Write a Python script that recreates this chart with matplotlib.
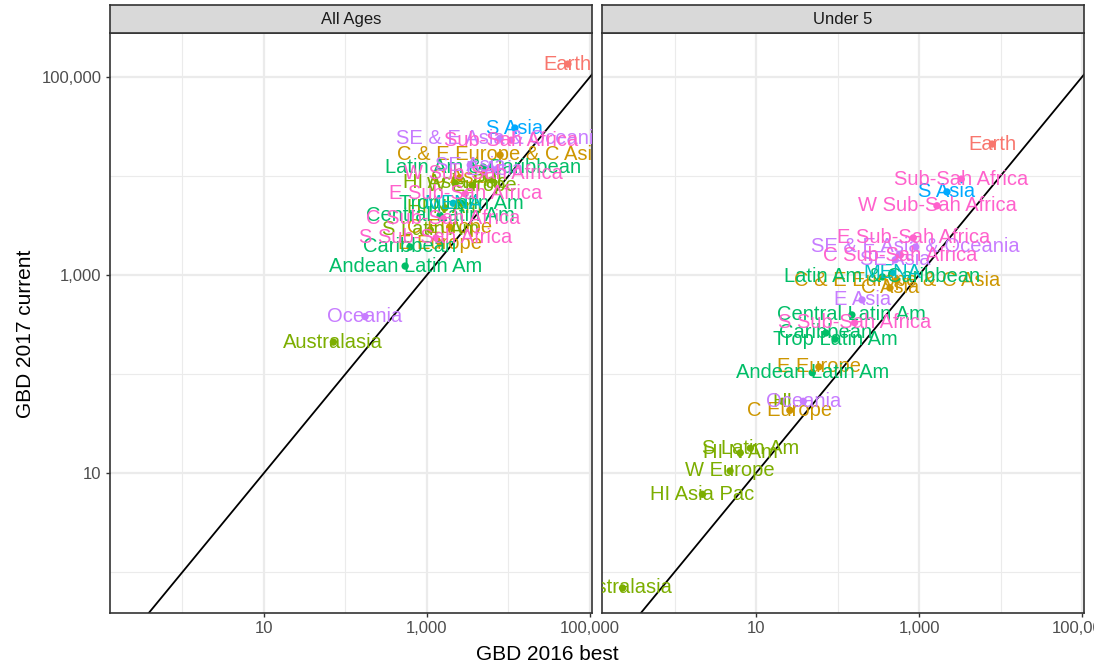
import matplotlib
matplotlib.use("Agg")
import matplotlib.pyplot as plt
from matplotlib.patches import Rectangle

plt.rcParams['font.family'] = ['Liberation Sans', 'DejaVu Sans']

# region labels and the super-region each belongs to (sets the colour)
regions = ["Earth",
           "C & E Europe & C Asia", "C Asia", "C Europe", "E Europe",
           "HI", "Australasia", "HI Asia Pac", "HI N Am", "S Latin Am", "W Europe",
           "Latin Am & Caribbean", "Andean Latin Am", "Caribbean", "Central Latin Am", "Trop Latin Am",
           "MENA",
           "S Asia",
           "SE & E Asia & Oceania", "E Asia", "Oceania", "SE Asia",
           "Sub-Sah Africa", "C Sub-Sah Africa", "E Sub-Sah Africa", "S Sub-Sah Africa", "W Sub-Sah Africa"]
groups = ["Global",
          "CEE", "CEE", "CEE", "CEE",
          "HI", "HI", "HI", "HI", "HI", "HI",
          "LatAm", "LatAm", "LatAm", "LatAm", "LatAm",
          "MENA",
          "SAsia",
          "SEAsia", "SEAsia", "SEAsia", "SEAsia",
          "SSA", "SSA", "SSA", "SSA", "SSA"]

# All Ages panel
all_x = [53700,
         7900, 2520, 1900, 1450,
         6300, 71, 2200, 1660, 1100, 3550,
         4900, 540, 620, 1450, 2650,
         2100,
         12000,
         7900, 6800, 174, 3400,
         10800, 1590, 2950, 1290, 5000]
all_y = [135000,
         16300, 9600, 3050, 2100,
         9100, 210, 8500, 4760, 2850, 8100,
         12300, 1230, 1920, 4000, 5300,
         5300,
         30500,
         24000, 11500, 380, 12900,
         23000, 3700, 6600, 2370, 10700]

# Under 5 panel
u5_x = [7900,
        535, 440, 26, 59,
        21, 0.23, 2.2, 6.4, 8.5, 4.8,
        355, 49, 72, 150, 93,
        470,
        2200,
        910, 200, 38, 510,
        3300, 590, 850, 162, 1660]
u5_y = [21000,
        890, 740, 43, 118,
        53, 0.69, 6.1, 16, 17.8, 10.5,
        955, 103, 260, 395, 225,
        1050,
        6900,
        1920, 560, 53, 1420,
        9300, 1590, 2370, 330, 5000]

palette = {"Global": "#F8766D", "CEE": "#CD9600", "HI": "#7CAE00", "LatAm": "#00BE67",
           "MENA": "#00BFC4", "SAsia": "#00A9FF", "SEAsia": "#C77CFF", "SSA": "#FF61CC"}

xlim = (10 ** -0.89, 10 ** 5.025)
ylim = (10 ** -0.414, 10 ** 5.444)

fig = plt.figure(figsize=(10.94, 6.68), dpi=100)
panels = [("All Ages", all_x, all_y, 0.1005), ("Under 5", u5_x, u5_y, 0.5503)]
w, bottom, h = 0.4406, 0.0823, 0.8683

for i, (title, xs, ys, left) in enumerate(panels):
    ax = fig.add_axes([left, bottom, w, h])
    ax.set_xscale("log")
    ax.set_yscale("log")
    ax.set_xlim(xlim)
    ax.set_ylim(ylim)

    for v in [1, 100, 10000]:
        ax.axvline(v, color="#EBEBEB", lw=0.8, zorder=0)
        ax.axhline(v, color="#EBEBEB", lw=0.8, zorder=0)
    for v in [10, 1000, 100000]:
        ax.axvline(v, color="#EBEBEB", lw=1.6, zorder=0)
        ax.axhline(v, color="#EBEBEB", lw=1.6, zorder=0)

    ax.axline((1, 1), (10, 10), color="black", lw=1.3, zorder=2)

    cols = [palette[g] for g in groups]
    ax.scatter(xs, ys, s=28, c=cols, zorder=3, linewidths=0)
    for lab, x, y, c in zip(regions, xs, ys, cols):
        ax.text(x, y, lab, color=c, fontsize=14.5, ha="center", va="center",
                zorder=4, clip_on=True)

    ax.set_xticks([10, 1000, 100000])
    ax.set_xticklabels(["10", "1,000", "100,000"])
    ax.xaxis.set_minor_locator(matplotlib.ticker.NullLocator())
    ax.yaxis.set_minor_locator(matplotlib.ticker.NullLocator())
    ax.tick_params(axis="x", colors="#333333", labelcolor="#4D4D4D", labelsize=12,
                   length=3, width=1, pad=3)
    if i == 0:
        ax.set_yticks([10, 1000, 100000])
        ax.set_yticklabels(["10", "1,000", "100,000"])
        ax.tick_params(axis="y", colors="#333333", labelcolor="#4D4D4D", labelsize=12,
                       length=3, width=1, pad=3)
    else:
        ax.set_yticks([])
    for sp in ax.spines.values():
        sp.set_color("#333333")
        sp.set_linewidth(1.2)

    # facet strip
    strip = fig.add_axes([left, bottom + h, w, 0.0419])
    strip.set_xticks([])
    strip.set_yticks([])
    strip.set_facecolor("#D9D9D9")
    for sp in strip.spines.values():
        sp.set_color("#333333")
        sp.set_linewidth(1.2)
    strip.text(0.5, 0.5, title, ha="center", va="center", fontsize=12, color="#1A1A1A",
               transform=strip.transAxes)

fig.text(0.5, 0.02, "GBD 2016 best", ha="center", va="center", fontsize=15)
fig.text(0.023, 0.5, "GBD 2017 current", ha="center", va="center", rotation=90, fontsize=15)

fig.savefig("out.png", dpi=100)
